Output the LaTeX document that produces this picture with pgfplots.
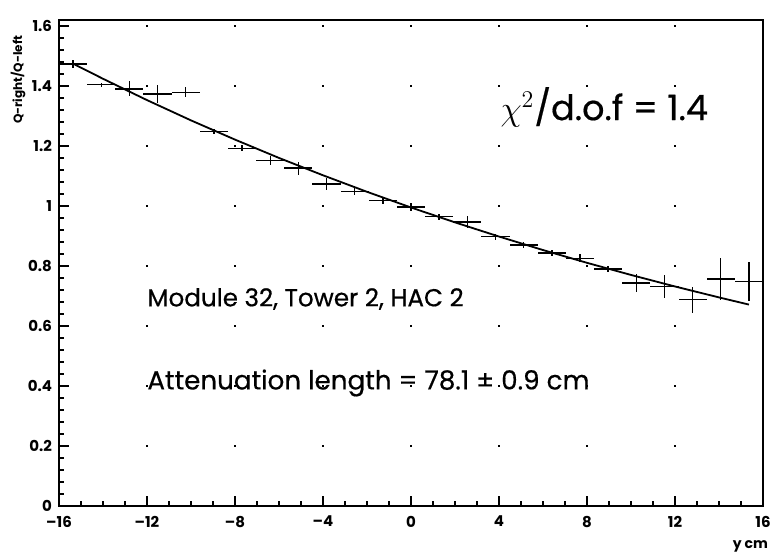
\documentclass[border=0pt]{standalone}
\usepackage{pgfplots}
\usepackage{pgfplotstable}
\pgfplotsset{compat=1.18}
\usepackage{fontspec}
\setmainfont{Poppins}
\newfontfamily\annot[FakeBold=0.5]{Poppins}

% ratio Q-right/Q-left per 1.28 cm bin
\pgfplotstableread{
x       y      ex    ey
-15.36  1.473  0.64  0.013
-14.08  1.404  0.64  0.006
-12.80  1.390  0.64  0.025
-11.52  1.373  0.64  0.030
-10.24  1.379  0.64  0.017
-8.96   1.248  0.64  0.008
-7.68   1.192  0.64  0.010
-6.40   1.151  0.64  0.016
-5.12   1.126  0.64  0.022
-3.84   1.073  0.64  0.020
-2.56   1.048  0.64  0.013
-1.28   1.018  0.64  0.010
0.00    0.996  0.64  0.013
1.28    0.964  0.64  0.010
2.56    0.946  0.64  0.020
3.84    0.898  0.64  0.010
5.12    0.870  0.64  0.010
6.40    0.843  0.64  0.010
7.68    0.826  0.64  0.013
8.96    0.790  0.64  0.010
10.24   0.743  0.64  0.029
11.52   0.732  0.64  0.039
12.80   0.688  0.64  0.043
14.08   0.757  0.64  0.070
15.36   0.748  0.64  0.064
}\ratio

% fitted exponential
\pgfplotstableread{
x       y
-15.36  1.4745
-14     1.4241
-12     1.3530
-10     1.2854
-8      1.2213
-6      1.1602
-4      1.1024
-2      1.0473
0       0.9950
2       0.9454
4       0.8982
6       0.8532
8       0.8106
10      0.7702
12      0.7317
14      0.6953
15.36   0.6714
}\fit

\begin{document}
\begin{tikzpicture}
\path[use as bounding box] (-29.5pt,-26pt) rectangle (359pt,253pt);
\begin{axis}[
  width=352pt, height=243pt, scale only axis,
  xmin=-16, xmax=16, ymin=0, ymax=1.62,
  xtick={-16,-12,...,16},
  xticklabels={--16,--12,--8,--4,0,4,8,12,16},
  ytick={0,0.2,0.4,0.6,0.8,1,1.2,1.4,1.6},
  minor x tick num=3, minor y tick num=4,
  tick pos=left, tick align=inside,
  major tick length=5pt, minor tick length=2.5pt,
  every tick/.style={black, line width=0.6pt},
  axis line style={line width=0.9pt},
  xmajorgrids, ymajorgrids,
  x grid style={black, line width=0.9pt, dash pattern=on 0.9pt off 29.1pt, dash phase=0.45pt},
  y grid style={black, line width=0.9pt, dash pattern=on 0.9pt off 43.1pt, dash phase=0.45pt},
  /pgf/number format/assume math mode=true,
  ticklabel style={font=\fontsize{7.5}{8}\selectfont\bfseries},
  xticklabel style={yshift=-1.5pt},
  xlabel={y cm},
  xlabel style={at={(axis description cs:1.017,-0.084)}, anchor=east,
    font=\fontsize{7}{8}\selectfont\bfseries},
  ylabel={Q-right/Q-left},
  ylabel style={at={(axis description cs:-0.058,0.877)}, anchor=center,
    font=\fontsize{6}{7}\selectfont\bfseries},
]
\addplot[black, line width=0.7pt, draw=none, mark=none,
  error bars/.cd, x dir=both, x explicit, y dir=both, y explicit,
  error mark=none, error bar style={line width=0.7pt}]
  table[x=x, y=y, x error=ex, y error=ey] {\ratio};
\addplot[black, line width=0.9pt, mark=none] table[x=x, y=y] {\fit};

\node[anchor=west, inner sep=0pt, font=\fontsize{17.5}{19}\selectfont\annot] at (axis cs:4.05,1.33)
  {$\chi^2$/d.o.f = 1.4};
\node[anchor=west, inner sep=0pt, font=\fontsize{12.3}{14}\selectfont\annot] at (axis cs:-12.0,0.69)
  {Module 32, Tower 2, HAC 2};
\node[anchor=west, inner sep=0pt, font=\fontsize{13.1}{15}\selectfont\annot] at (axis cs:-12.0,0.41)
  {Attenuation length = 78.1 ± 0.9 cm};
\end{axis}
\end{tikzpicture}
\end{document}
